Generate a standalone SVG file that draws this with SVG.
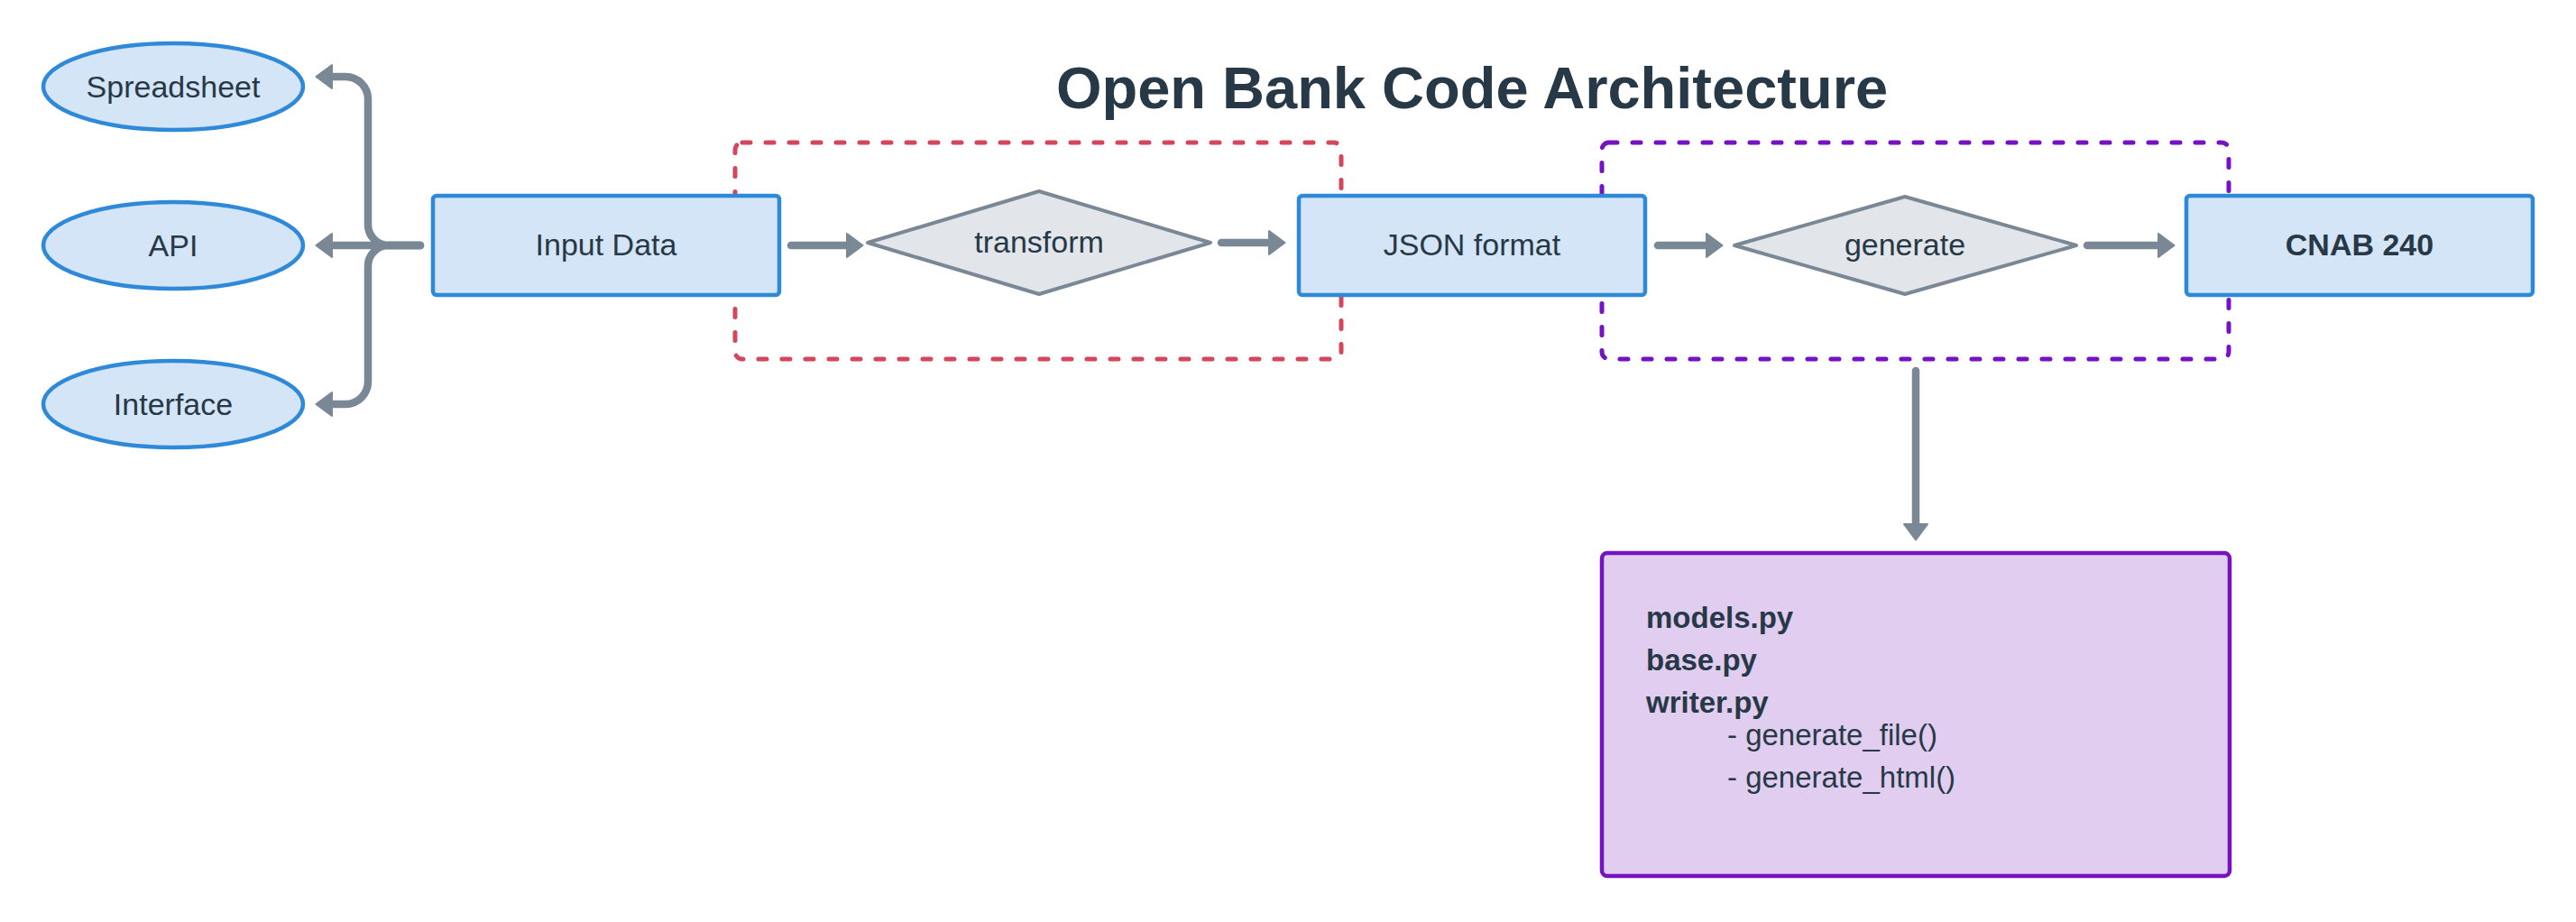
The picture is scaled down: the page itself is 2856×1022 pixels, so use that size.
<svg xmlns="http://www.w3.org/2000/svg" width="2856" height="1022" viewBox="0 0 2856 1022">
<style>
text{font-family:"Liberation Sans",Arial,sans-serif;fill:#273846}
.lbl{font-size:34px;text-anchor:middle}
.b{font-weight:bold}
.node{fill:#d3e5f6;stroke:#2e8ad8;stroke-width:4.5}
.dia{fill:#e2e5e9;stroke:#7a8896;stroke-width:4;stroke-linejoin:round}
.conn{fill:none;stroke:#7a8896;stroke-width:8.5;stroke-linecap:round;marker-end:url(#ah)}
.grp{fill:none;stroke-width:5;stroke-linecap:round;stroke-dasharray:9 17}
.code{font-size:33px}
</style>
<defs>
<marker id="ah" viewBox="-2 -16 22 32" refX="0" refY="0" markerWidth="22" markerHeight="32" markerUnits="userSpaceOnUse" orient="auto">
<path d="M0,-13 L17.5,0 L0,13 Z" fill="#7a8896" stroke="#7a8896" stroke-width="2" stroke-linejoin="round"/>
</marker>
</defs>
<rect width="2856" height="1022" fill="#ffffff"/>
<text id="title" x="1632" y="120" class="b" font-size="65" text-anchor="middle">Open Bank Code Architecture</text>
<g id="group-transform"><rect class="grp" x="815" y="158" width="672" height="240" rx="8" stroke="#d3465c"/></g>
<g id="group-generate"><rect class="grp" x="1776" y="158" width="695" height="240" rx="8" stroke="#7512c4"/></g>
<g id="connectors">
<path class="conn" d="M466,272 H431 A23,23 0 0 1 408,249 V110 A25,25 0 0 0 383,85 H368"/>
<path class="conn" d="M466,272 H368"/>
<path class="conn" d="M466,272 H431 A23,23 0 0 0 408,295 V423 A25,25 0 0 1 383,448 H368"/>
<path class="conn" d="M877,272 H939"/>
<path class="conn" d="M1354,269 H1407"/>
<path class="conn" d="M1838,272 H1892"/>
<path class="conn" d="M2314,272 H2393"/>
<path class="conn" d="M2124,411 V581"/>
</g>
<g id="spreadsheet"><ellipse class="node" cx="192" cy="96" rx="144" ry="48"/><text class="lbl" x="192" y="108">Spreadsheet</text></g>
<g id="api"><ellipse class="node" cx="192" cy="272" rx="144" ry="48"/><text class="lbl" x="192" y="284">API</text></g>
<g id="interface"><ellipse class="node" cx="192" cy="448" rx="144" ry="48"/><text class="lbl" x="192" y="460">Interface</text></g>
<g id="input-data"><rect class="node" x="480" y="217" width="384" height="110" rx="4"/><text class="lbl" x="672" y="283">Input Data</text></g>
<g id="transform"><polygon class="dia" points="962,269 1152,212 1342,269 1152,326"/><text class="lbl" x="1152" y="280">transform</text></g>
<g id="json-format"><rect class="node" x="1440" y="217" width="384" height="110" rx="4"/><text class="lbl" x="1632" y="283">JSON format</text></g>
<g id="generate"><polygon class="dia" points="1923,272 2112,218 2302,272 2112,326"/><text class="lbl" x="2112" y="283">generate</text></g>
<g id="cnab-240"><rect class="node" x="2424" y="217" width="384" height="110" rx="4"/><text class="lbl b" x="2616" y="283">CNAB 240</text></g>
<g id="files"><rect x="1776" y="613" width="696" height="358" rx="6" fill="#e1cdf0" stroke="#7512c4" stroke-width="4.5"/>
<text class="code b" x="1825" y="696">models.py</text>
<text class="code b" x="1825" y="743">base.py</text>
<text class="code b" x="1825" y="790">writer.py</text>
<text class="code" x="1915" y="826">- generate_file()</text>
<text class="code" x="1915" y="873">- generate_html()</text>
</g>
</svg>
